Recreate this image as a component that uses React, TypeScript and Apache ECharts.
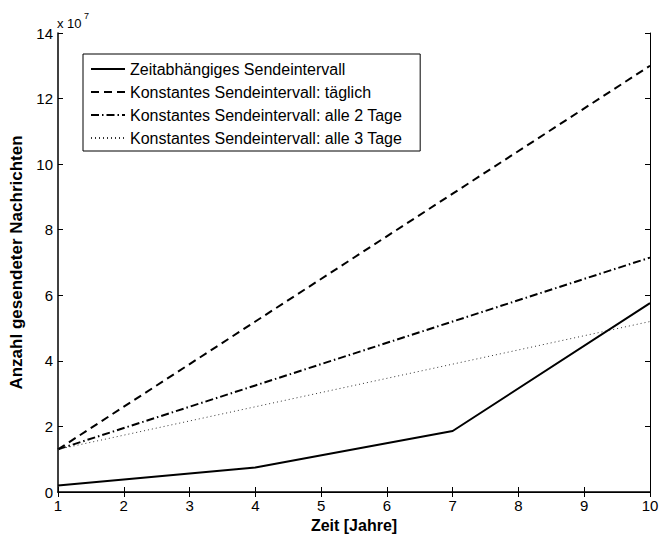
import React, { useEffect, useRef } from "react";
import * as echarts from "echarts";

const jahre = [1, 4, 7, 10];
const zeitabhaengig = [2.0e6, 7.5e6, 1.86e7, 5.76e7];
const taeglich = [1.3e7, 5.2e7, 9.1e7, 1.3e8];
const alle2Tage = [1.3e7, 3.25e7, 5.2e7, 7.15e7];
const alle3Tage = [1.3e7, 2.6e7, 3.9e7, 5.2e7];

const seriesNames = [
  "Zeitabhängiges Sendeintervall",
  "Konstantes Sendeintervall: täglich",
  "Konstantes Sendeintervall: alle 2 Tage",
  "Konstantes Sendeintervall: alle 3 Tage",
];

const FONT = "'Liberation Sans', Arial, Helvetica, sans-serif";

export default function App() {
  const ref = useRef<HTMLDivElement>(null);
  useEffect(() => {
    if (!ref.current) return;
    const chart = echarts.init(ref.current, undefined, { renderer: "svg" });
    const pts = (vals: number[]) => jahre.map((x, i) => [x, vals[i]]);
    const axisCommon = {
      axisLine: { show: true, lineStyle: { color: "#000", width: 1.5 } },
      axisTick: { show: true, inside: true, length: 5, lineStyle: { color: "#000", width: 1 } },
      splitLine: { show: false },
    };
    chart.setOption({
      animation: false,
      backgroundColor: "#fff",
      textStyle: { fontFamily: FONT },
      grid: {
        left: 58,
        right: 10,
        top: 33,
        bottom: 43,
        containLabel: false,
        outerBoundsMode: "none",
      },
      legend: {
        show: true,
        orient: "vertical",
        left: 83,
        top: 54,
        data: seriesNames,
        backgroundColor: "#fff",
        borderColor: "#000",
        borderWidth: 1,
        borderRadius: 0,
        padding: [7, 18, 5, 7],
        itemWidth: 34,
        itemHeight: 14,
        itemGap: 7,
        itemStyle: { opacity: 0, borderWidth: 0 },
        textStyle: { fontFamily: FONT, fontSize: 16, color: "#000" },
        selectedMode: false,
      },
      xAxis: [
        {
          type: "value",
          min: 1,
          max: 10,
          interval: 1,
          name: "Zeit [Jahre]",
          nameLocation: "middle",
          nameGap: 23,
          nameTextStyle: { fontFamily: FONT, fontSize: 16, fontWeight: "bold", color: "#000" },
          axisLabel: { fontFamily: FONT, fontSize: 15, color: "#000", margin: 6 },
          ...axisCommon,
        },
        {
          type: "value",
          position: "top",
          min: 1,
          max: 10,
          interval: 1,
          axisLabel: { show: false },
          ...axisCommon,
          axisLine: { show: true, lineStyle: { color: "#000", width: 1 } },
        },
      ],
      yAxis: [
        {
          type: "value",
          min: 0,
          max: 1.4e8,
          interval: 2e7,
          name: "Anzahl gesendeter Nachrichten",
          nameLocation: "middle",
          nameRotate: 90,
          nameGap: 30,
          nameTextStyle: { fontFamily: FONT, fontSize: 17, fontWeight: "bold", color: "#000" },
          axisLabel: {
            fontFamily: FONT,
            fontSize: 15,
            color: "#000",
            margin: 5,
            formatter: (v: number) => String(Math.round(v / 1e7)),
          },
          ...axisCommon,
        },
        {
          type: "value",
          position: "right",
          min: 0,
          max: 1.4e8,
          interval: 2e7,
          axisLabel: { show: false },
          ...axisCommon,
          axisLine: { show: true, lineStyle: { color: "#000", width: 1 } },
        },
      ],
      graphic: [
        {
          type: "text",
          left: 57,
          top: 17,
          style: { text: "x 10", fontFamily: FONT, fontSize: 13, fill: "#000" },
        },
        {
          type: "text",
          left: 84,
          top: 11,
          style: { text: "7", fontFamily: FONT, fontSize: 9, fill: "#000" },
        },
      ],
      series: [
        {
          name: seriesNames[0],
          type: "line",
          data: pts(zeitabhaengig),
          symbol: "none",
          lineStyle: { color: "#000", width: 2, type: "solid" },
          itemStyle: { color: "#000" },
          z: 5,
        },
        {
          name: seriesNames[1],
          type: "line",
          data: pts(taeglich),
          symbol: "none",
          lineStyle: { color: "#000", width: 2, type: [8, 5] },
          itemStyle: { color: "#000" },
        },
        {
          name: seriesNames[2],
          type: "line",
          data: pts(alle2Tage),
          symbol: "none",
          lineStyle: { color: "#000", width: 2, type: [8, 3, 1.5, 3] },
          itemStyle: { color: "#000" },
        },
        {
          name: seriesNames[3],
          type: "line",
          data: pts(alle3Tage),
          symbol: "none",
          lineStyle: { color: "#333", width: 1, type: [1, 3] },
          itemStyle: { color: "#333" },
        },
      ],
    });
    return () => chart.dispose();
  }, []);
  return (
    <div
      ref={ref}
      style={{ position: "fixed", left: 0, top: 0, width: 660, height: 535, background: "#fff" }}
    />
  );
}
